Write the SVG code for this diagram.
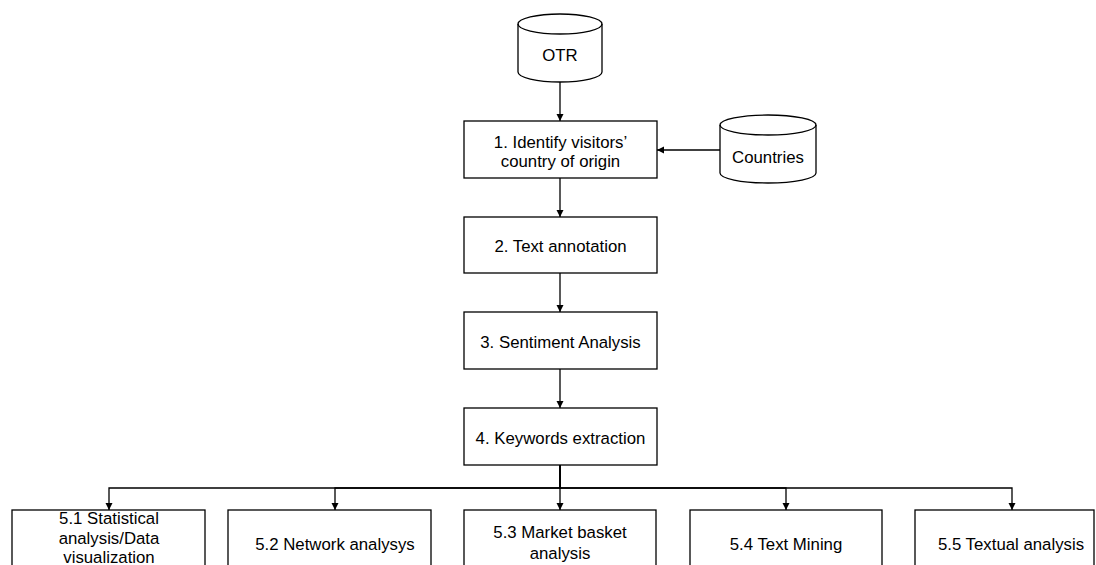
<svg xmlns="http://www.w3.org/2000/svg" width="1096" height="565" viewBox="0 0 1096 565">
<style>
.b{fill:#fff;stroke:#000;stroke-width:1.3}
.t{font-family:"Liberation Sans",Arial,sans-serif;font-size:16.8px;fill:#000;text-anchor:middle;dominant-baseline:central}
.c{fill:none;stroke:#000;stroke-width:1.3}
</style>
<defs>
<marker id="a" markerWidth="8" markerHeight="8" refX="7" refY="4" orient="auto" markerUnits="userSpaceOnUse">
<path d="M0,0.5 L7,4 L0,7.5 Z" fill="#000"/>
</marker>
</defs>
<rect width="1096" height="565" fill="#fff"/>
<g id="connectors">
<path class="c" d="M560,82 V121" marker-end="url(#a)"/>
<path class="c" d="M720,150 H657" marker-end="url(#a)"/>
<path class="c" d="M560,178 V217" marker-end="url(#a)"/>
<path class="c" d="M560,273 V312" marker-end="url(#a)"/>
<path class="c" d="M560,369 V408" marker-end="url(#a)"/>
<path class="c" d="M560,465 V488 H109 V510" marker-end="url(#a)"/>
<path class="c" d="M560,465 V488 H335 V510" marker-end="url(#a)"/>
<path class="c" d="M560,465 V510" marker-end="url(#a)"/>
<path class="c" d="M560,465 V488 H786 V510" marker-end="url(#a)"/>
<path class="c" d="M560,465 V488 H1012 V510" marker-end="url(#a)"/>
</g>
<g id="otr">
<path class="b" d="M518,24 A42,10 0 0 1 602,24 V72 A42,10 0 0 1 518,72 Z"/>
<path class="c" d="M518,24 A42,10 0 0 0 602,24"/>
<text class="t" x="560" y="55">OTR</text>
</g>
<g id="countries">
<path class="b" d="M720,125 A48,10 0 0 1 816,125 V173 A48,10 0 0 1 720,173 Z"/>
<path class="c" d="M720,125 A48,10 0 0 0 816,125"/>
<text class="t" x="768" y="157">Countries</text>
</g>
<g id="n1">
<rect class="b" x="464" y="121" width="193" height="57"/>
<text class="t" x="560.5" y="142">1. Identify visitors’</text>
<text class="t" x="560.5" y="161">country of origin</text>
</g>
<g id="n2">
<rect class="b" x="464" y="217" width="193" height="56"/>
<text class="t" x="560.5" y="246">2. Text annotation</text>
</g>
<g id="n3">
<rect class="b" x="464" y="312" width="193" height="57"/>
<text class="t" x="560.5" y="342">3. Sentiment Analysis</text>
</g>
<g id="n4">
<rect class="b" x="464" y="408" width="193" height="57"/>
<text class="t" x="560.5" y="438">4. Keywords extraction</text>
</g>
<g id="n51">
<rect class="b" x="12" y="510" width="193" height="60"/>
<text class="t" x="109" y="518">5.1 Statistical</text>
<text class="t" x="109" y="538">analysis/Data</text>
<text class="t" x="109" y="557">visualization</text>
</g>
<g id="n52">
<rect class="b" x="228" y="510" width="203" height="60"/>
<text class="t" x="335" y="544">5.2 Network analysys</text>
</g>
<g id="n53">
<rect class="b" x="464" y="510" width="192" height="60"/>
<text class="t" x="560" y="532">5.3 Market basket</text>
<text class="t" x="560" y="553">analysis</text>
</g>
<g id="n54">
<rect class="b" x="690" y="510" width="192" height="60"/>
<text class="t" x="786" y="544">5.4 Text Mining</text>
</g>
<g id="n55">
<rect class="b" x="915" y="510" width="179" height="60"/>
<text class="t" x="1011" y="544">5.5 Textual analysis</text>
</g>
</svg>
